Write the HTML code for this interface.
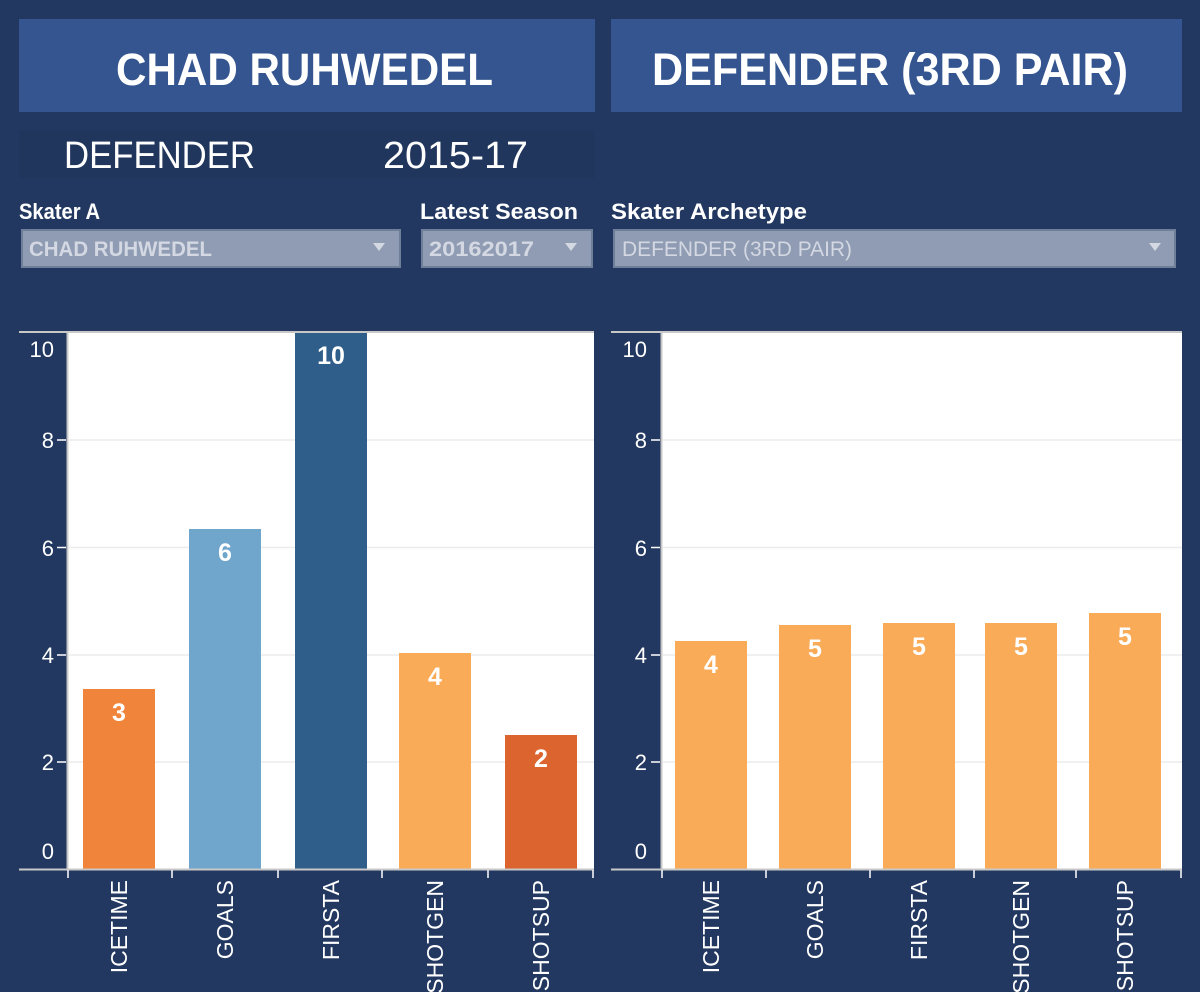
<!DOCTYPE html>
<html><head><meta charset="utf-8"><style>
html,body{margin:0;padding:0;background:#223860;}
svg{display:block}
</style></head><body>
<svg width="1200" height="992" viewBox="0 0 1200 992" xmlns="http://www.w3.org/2000/svg" font-family="Liberation Sans, sans-serif">
<rect width="1200" height="992" fill="#223860"/>
<!-- headers -->
<rect x="19" y="19" width="576" height="93" fill="#34558f"/>
<rect x="611" y="19" width="571" height="93" fill="#34558f"/>
<text x="116" y="85" font-size="45" font-weight="bold" fill="#fff" textLength="377" lengthAdjust="spacingAndGlyphs">CHAD RUHWEDEL</text>
<text x="652" y="85" font-size="45" font-weight="bold" fill="#fff" textLength="476" lengthAdjust="spacingAndGlyphs">DEFENDER (3RD PAIR)</text>
<rect x="19" y="130" width="576" height="48" fill="#21365d"/>
<text x="64" y="168" font-size="38" fill="#fff" textLength="191" lengthAdjust="spacingAndGlyphs">DEFENDER</text>
<text x="383" y="168" font-size="38" fill="#fff" textLength="145" lengthAdjust="spacingAndGlyphs">2015-17</text>
<!-- filter labels -->
<text x="19" y="219" font-size="22" font-weight="bold" fill="#fff" textLength="81" lengthAdjust="spacingAndGlyphs">Skater A</text>
<text x="420" y="219" font-size="22" font-weight="bold" fill="#fff" textLength="158" lengthAdjust="spacingAndGlyphs">Latest Season</text>
<text x="611" y="219" font-size="22" font-weight="bold" fill="#fff" textLength="196" lengthAdjust="spacingAndGlyphs">Skater Archetype</text>
<g stroke="#6f7f9a" stroke-width="2" fill="#8f9cb3">
<rect x="22" y="230" width="378" height="37"/>
<rect x="422" y="230" width="170" height="37"/>
<rect x="614" y="230" width="561" height="37"/>
</g>
<text x="29" y="256" font-size="21" font-weight="bold" fill="#d3d8e2" textLength="183" lengthAdjust="spacingAndGlyphs">CHAD RUHWEDEL</text>
<text x="429" y="256" font-size="21" font-weight="bold" fill="#d3d8e2" textLength="105" lengthAdjust="spacingAndGlyphs">20162017</text>
<text x="622" y="256" font-size="21" fill="#d3d8e2" textLength="230" lengthAdjust="spacingAndGlyphs">DEFENDER (3RD PAIR)</text>
<g fill="#d3d8e2">
<polygon points="373,243 385,243 379,251"/>
<polygon points="565,243 577,243 571,251"/>
<polygon points="1149,243 1161,243 1155,251"/>
</g>

<!-- LEFT CHART -->
<rect x="68" y="332" width="526" height="537" fill="#fff"/>
<g stroke="#ececec" stroke-width="1.5">
<line x1="69" y1="440" x2="594" y2="440"/><line x1="69" y1="547.5" x2="594" y2="547.5"/>
<line x1="69" y1="655" x2="594" y2="655"/><line x1="69" y1="762" x2="594" y2="762"/>
</g>
<rect x="83" y="689" width="72" height="180" fill="#f0843a"/>
<rect x="189" y="529" width="72" height="340" fill="#71a6cc"/>
<rect x="295" y="332" width="72" height="537" fill="#2f5e8a"/>
<rect x="399" y="653" width="72" height="216" fill="#f9ab58"/>
<rect x="505" y="735" width="72" height="134" fill="#dc642e"/>
<g font-size="25" font-weight="bold" fill="#fff" text-anchor="middle">
<text x="119" y="721">3</text><text x="225" y="561">6</text><text x="331" y="364">10</text>
<text x="435" y="685">4</text><text x="541" y="767">2</text>
</g>
<g stroke="#c8c8c8" stroke-width="2">
<line x1="19" y1="332" x2="594" y2="332"/>
<line x1="67.5" y1="332" x2="67.5" y2="870"/>
<line x1="19" y1="869.5" x2="594" y2="869.5"/>
</g>
<g stroke="#fff" stroke-width="1.5">
<line x1="57" y1="440" x2="66" y2="440"/><line x1="57" y1="547.5" x2="66" y2="547.5"/>
<line x1="57" y1="655" x2="66" y2="655"/><line x1="57" y1="762" x2="66" y2="762"/>
<line x1="68" y1="870" x2="68" y2="878"/><line x1="172" y1="870" x2="172" y2="878"/>
<line x1="278" y1="870" x2="278" y2="878"/><line x1="382" y1="870" x2="382" y2="878"/>
<line x1="488" y1="870" x2="488" y2="878"/><line x1="593" y1="870" x2="593" y2="878"/>
</g>
<g font-size="22" fill="#fff" text-anchor="end">
<text x="54" y="357">10</text><text x="54" y="448">8</text><text x="54" y="556">6</text>
<text x="54" y="663">4</text><text x="54" y="770">2</text><text x="54" y="859">0</text>
</g>
<g font-size="23" fill="#fff" text-anchor="end">
<text transform="translate(127,880) rotate(-90)">ICETIME</text>
<text transform="translate(233,880) rotate(-90)">GOALS</text>
<text transform="translate(339,880) rotate(-90)">FIRSTA</text>
<text transform="translate(443,880) rotate(-90)">SHOTGEN</text>
<text transform="translate(549,880) rotate(-90)">SHOTSUP</text>
</g>

<!-- RIGHT CHART -->
<rect x="662" y="332" width="520" height="537" fill="#fff"/>
<g stroke="#ececec" stroke-width="1.5">
<line x1="663" y1="440" x2="1182" y2="440"/><line x1="663" y1="547.5" x2="1182" y2="547.5"/>
<line x1="663" y1="655" x2="1182" y2="655"/><line x1="663" y1="762" x2="1182" y2="762"/>
</g>
<g fill="#f9ab58">
<rect x="675" y="641" width="72" height="228"/>
<rect x="779" y="625" width="72" height="244"/>
<rect x="883" y="623" width="72" height="246"/>
<rect x="985" y="623" width="72" height="246"/>
<rect x="1089" y="613" width="72" height="256"/>
</g>
<g font-size="25" font-weight="bold" fill="#fff" text-anchor="middle">
<text x="711" y="673">4</text><text x="815" y="657">5</text><text x="919" y="655">5</text>
<text x="1021" y="655">5</text><text x="1125" y="645">5</text>
</g>
<g stroke="#c8c8c8" stroke-width="2">
<line x1="611" y1="332" x2="1182" y2="332"/>
<line x1="661.5" y1="332" x2="661.5" y2="870"/>
<line x1="611" y1="869.5" x2="1182" y2="869.5"/>
</g>
<g stroke="#fff" stroke-width="1.5">
<line x1="651" y1="440" x2="660" y2="440"/><line x1="651" y1="547.5" x2="660" y2="547.5"/>
<line x1="651" y1="655" x2="660" y2="655"/><line x1="651" y1="762" x2="660" y2="762"/>
<line x1="662" y1="870" x2="662" y2="878"/><line x1="766" y1="870" x2="766" y2="878"/>
<line x1="870" y1="870" x2="870" y2="878"/><line x1="974" y1="870" x2="974" y2="878"/>
<line x1="1076" y1="870" x2="1076" y2="878"/><line x1="1181" y1="870" x2="1181" y2="878"/>
</g>
<g font-size="22" fill="#fff" text-anchor="end">
<text x="647" y="357">10</text><text x="647" y="448">8</text><text x="647" y="556">6</text>
<text x="647" y="663">4</text><text x="647" y="770">2</text><text x="647" y="859">0</text>
</g>
<g font-size="23" fill="#fff" text-anchor="end">
<text transform="translate(719,880) rotate(-90)">ICETIME</text>
<text transform="translate(823,880) rotate(-90)">GOALS</text>
<text transform="translate(927,880) rotate(-90)">FIRSTA</text>
<text transform="translate(1029,880) rotate(-90)">SHOTGEN</text>
<text transform="translate(1133,880) rotate(-90)">SHOTSUP</text>
</g>
</svg>
</body></html>
